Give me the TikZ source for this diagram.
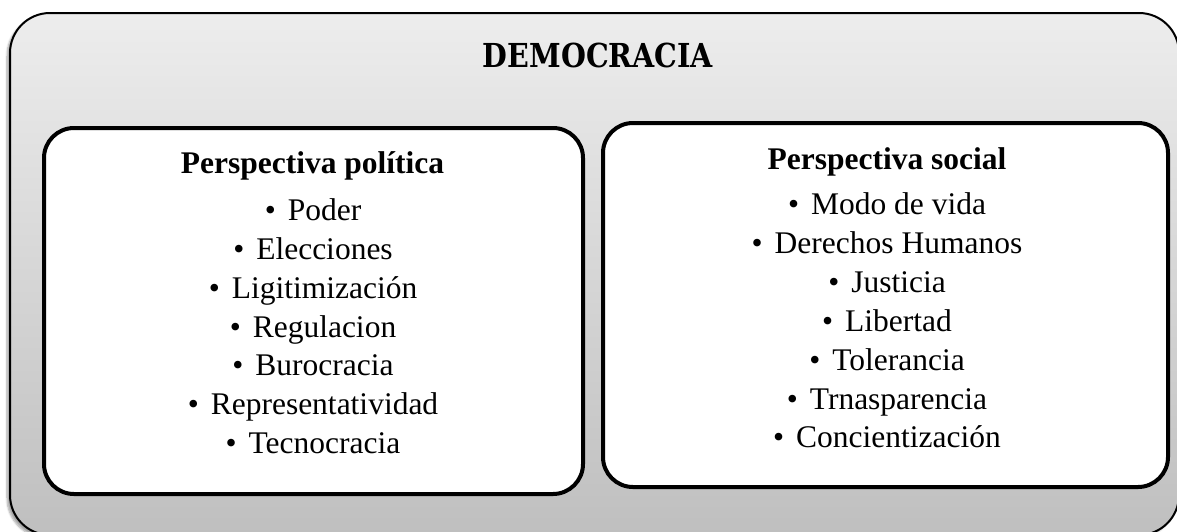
\documentclass[tikz,border=0pt]{standalone}
\usepackage{graphicx}
\usepackage{fontspec}
\setmainfont{Liberation Serif}
\newfontfamily\titlefont{DejaVu Serif}
\usetikzlibrary{shadows.blur}
\definecolor{outerTop}{RGB}{237,237,237}
\definecolor{outerBot}{RGB}{191,191,191}
\tikzset{
  outerbox/.style={draw=black, line width=2pt, rounded corners=40pt,
    top color=outerTop, bottom color=outerBot,
    blur shadow={shadow xshift=-3pt, shadow yshift=-3pt, shadow blur steps=6, shadow opacity=35}},
  innerbox/.style={draw=black, line width=4pt, rounded corners=30pt, fill=white, inner sep=0pt},
  itemtext/.style={anchor=base, inner sep=0pt, font=\fontsize{31.5}{38}\selectfont},
  headtext/.style={anchor=base, inner sep=0pt, font=\fontsize{31.5}{38}\selectfont\bfseries},
  titletext/.style={anchor=base, inner sep=0pt},
}
\newcommand{\bul}[1]{\textbullet\hspace{0.38em}#1}
\begin{document}
\begin{tikzpicture}[x=1pt,y=-1pt]
\useasboundingbox (0,0) rectangle (1177,531);
\begin{scope}
  \clip (0,0) rectangle (1177,531);
  \path[outerbox] (10,13) rectangle (1179,535);
\end{scope}
\node[titletext] (title) at (598,67) {\resizebox{230pt}{24.5pt}{\titlefont\bfseries DEMOCRACIA}};

\node[innerbox, minimum width=539pt, minimum height=366pt] (polbox) at (313.5,311) {};
\node[innerbox, minimum width=565pt, minimum height=364pt] (socbox) at (885.5,305) {};

\node[headtext] (polhead) at (312.5,173) {Perspectiva política};
\node[itemtext] (p1) at (313,220) {\bul{Poder}};
\node[itemtext] (p2) at (313,259) {\bul{Elecciones}};
\node[itemtext] (p3) at (313,298) {\bul{Ligitimización}};
\node[itemtext] (p4) at (313,337) {\bul{Regulacion}};
\node[itemtext] (p5) at (313,375) {\bul{Burocracia}};
\node[itemtext] (p6) at (313,414) {\bul{Representatividad}};
\node[itemtext] (p7) at (313,453) {\bul{Tecnocracia}};

\node[headtext] (sochead) at (887,169) {Perspectiva social};
\node[itemtext] (s1) at (887,214) {\bul{Modo de vida}};
\node[itemtext] (s2) at (887,253) {\bul{Derechos Humanos}};
\node[itemtext] (s3) at (887,292) {\bul{Justicia}};
\node[itemtext] (s4) at (887,331) {\bul{Libertad}};
\node[itemtext] (s5) at (887,370) {\bul{Tolerancia}};
\node[itemtext] (s6) at (887,409) {\bul{Trnasparencia}};
\node[itemtext] (s7) at (887,447) {\bul{Concientización}};
\end{tikzpicture}
\end{document}
